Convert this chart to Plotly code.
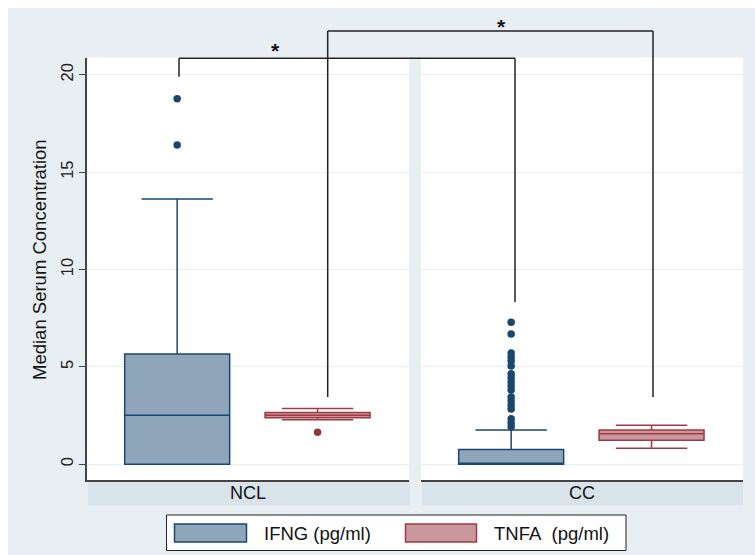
import plotly.graph_objects as go

# ---------------- data ----------------
groups = ["NCL", "CC"]
series = ["IFNG (pg/ml)", "TNFA  (pg/ml)"]

ifng_q1 = [0.0, 0.0]
ifng_median = [2.52, 0.0]
ifng_q3 = [5.66, 0.75]
ifng_lower = [0.0, 0.0]
ifng_upper = [13.62, 1.76]
ifng_outliers = [
    [18.77, 16.39],
    [7.29, 6.69, 5.71, 5.51, 5.30, 5.05, 4.64, 4.43, 4.22, 4.02, 3.81,
     3.45, 3.25, 3.04, 2.84, 2.33, 2.12, 1.92],
]

tnfa_q1 = [2.39, 1.23]
tnfa_median = [2.52, 1.57]
tnfa_q3 = [2.65, 1.76]
tnfa_lower = [2.29, 0.82]
tnfa_upper = [2.86, 2.00]
tnfa_outliers = [[1.64], []]

y_ticks = [0, 5, 10, 15, 20]

# ---------------- styling / layout constants ----------------
W, H = 755, 555
ML, MR, MT, MB = 87, 12, 58, 75
PW, PH = W - ML - MR, H - MT - MB

def px(x):
    return (x - ML) / PW

def py(y):
    return (H - MB - y) / PH

FONT = "Liberation Sans, Arial, sans-serif"
BG = "#e8eff2"
STRIP = "#d9e4ea"
GRID = "#e6eff1"
IFNG_LINE = "#1a476f"
IFNG_FILL = "#8fa5b9"
TNFA_LINE = "#9e3a44"
TNFA_FILL = "#c8989d"
AXIS = "#444444"

positions = [0.28, 0.716]
box_w = 0.326

domains = [[0, px(409)], [px(421), 1.0]]

fig = go.Figure()

for i, g in enumerate(groups):
    xa = "x" if i == 0 else "x2"
    ya = "y" if i == 0 else "y2"
    fig.add_trace(go.Box(
        x=[positions[0]], q1=[ifng_q1[i]], median=[ifng_median[i]], q3=[ifng_q3[i]],
        lowerfence=[ifng_lower[i]], upperfence=[ifng_upper[i]],
        width=box_w, whiskerwidth=0.68, boxpoints=False,
        fillcolor=IFNG_FILL, line=dict(color=IFNG_LINE, width=1.5),
        name=series[0], showlegend=False, xaxis=xa, yaxis=ya, hoverinfo="skip"))
    fig.add_trace(go.Box(
        x=[positions[1]], q1=[tnfa_q1[i]], median=[tnfa_median[i]], q3=[tnfa_q3[i]],
        lowerfence=[tnfa_lower[i]], upperfence=[tnfa_upper[i]],
        width=box_w, whiskerwidth=0.68, boxpoints=False,
        fillcolor=TNFA_FILL, line=dict(color=TNFA_LINE, width=1.5),
        name=series[1], showlegend=False, xaxis=xa, yaxis=ya, hoverinfo="skip"))
    if ifng_outliers[i]:
        fig.add_trace(go.Scatter(
            x=[positions[0]] * len(ifng_outliers[i]), y=ifng_outliers[i], mode="markers",
            marker=dict(color=IFNG_LINE, size=7.5), showlegend=False,
            xaxis=xa, yaxis=ya, hoverinfo="skip"))
    if tnfa_outliers[i]:
        fig.add_trace(go.Scatter(
            x=[positions[1]] * len(tnfa_outliers[i]), y=tnfa_outliers[i], mode="markers",
            marker=dict(color="#90353b", size=7.5), showlegend=False,
            xaxis=xa, yaxis=ya, hoverinfo="skip"))

shapes = []
# outer graph region background (white 8px edge at top/left)
shapes.append(dict(type="rect", xref="paper", yref="paper", layer="below",
                   x0=px(8), x1=px(W + 5), y0=py(H + 5), y1=py(8),
                   fillcolor=BG, line=dict(width=0)))
# white plot panels
for (x0, x1) in [(87, 409), (421, 743)]:
    shapes.append(dict(type="rect", xref="paper", yref="paper", layer="below",
                       x0=px(x0), x1=px(x1), y0=py(480), y1=py(57.5),
                       fillcolor="white", line=dict(width=0)))
# strips
for (x0, x1) in [(88, 410), (422, 743)]:
    shapes.append(dict(type="rect", xref="paper", yref="paper", layer="below",
                       x0=px(x0), x1=px(x1), y0=py(505), y1=py(480),
                       fillcolor=STRIP, line=dict(width=0)))

# significance brackets
def bracket(xl, xr, ytop, yl, yr):
    c = dict(color="#222222", width=1.5)
    return [
        dict(type="line", xref="paper", yref="paper", x0=px(xl), x1=px(xr),
             y0=py(ytop), y1=py(ytop), line=c),
        dict(type="line", xref="paper", yref="paper", x0=px(xl), x1=px(xl),
             y0=py(ytop), y1=py(yl), line=c),
        dict(type="line", xref="paper", yref="paper", x0=px(xr), x1=px(xr),
             y0=py(ytop), y1=py(yr), line=c),
    ]

shapes += bracket(179, 515, 58.3, 76.7, 302)
shapes += bracket(327.7, 653, 31, 397, 397)

# legend box
shapes.append(dict(type="rect", xref="paper", yref="paper",
                   x0=px(166.5), x1=px(626), y0=py(550.5), y1=py(515),
                   fillcolor="white", line=dict(color="#222222", width=1)))
shapes.append(dict(type="rect", xref="paper", yref="paper",
                   x0=px(174.5), x1=px(246.5), y0=py(542), y1=py(524),
                   fillcolor=IFNG_FILL, line=dict(color=IFNG_LINE, width=1.5)))
shapes.append(dict(type="rect", xref="paper", yref="paper",
                   x0=px(405.5), x1=px(476.5), y0=py(542), y1=py(524),
                   fillcolor=TNFA_FILL, line=dict(color=TNFA_LINE, width=1.5)))

annotations = []
# strip labels
for i, g in enumerate(groups):
    cx = (87 + 409) / 2 if i == 0 else (421 + 743) / 2
    annotations.append(dict(text=g, xref="paper", yref="paper", x=px(cx), y=py(492.5),
                            showarrow=False, xanchor="center", yanchor="middle",
                            font=dict(family=FONT, size=18, color="#111111")))
# legend labels
for label, lx in zip(series, [262, 492]):
    annotations.append(dict(text=label.replace("  ", "&nbsp; "), xref="paper", yref="paper",
                            x=px(lx), y=py(533), showarrow=False,
                            xanchor="left", yanchor="middle",
                            font=dict(family=FONT, size=18.5, color="#111111")))
# stars
for sx, sy in [(275.5, 50), (501.7, 27)]:
    annotations.append(dict(text="<b>*</b>", xref="paper", yref="paper", x=px(sx), y=py(sy),
                            showarrow=False, xanchor="center", yanchor="middle",
                            font=dict(family=FONT, size=21, color="#111111")))
# y-axis title
annotations.append(dict(text="Median Serum Concentration", xref="paper", yref="paper",
                        x=px(39), y=py(260), textangle=-90, showarrow=False,
                        xanchor="center", yanchor="middle",
                        font=dict(family=FONT, size=18.5, color="#111111")))

yrange = [-0.81, 20.86]
common_x = dict(range=[0, 1], showticklabels=False, ticks="", showgrid=False,
                zeroline=False, showline=True, linecolor=AXIS, linewidth=1.5)

fig.update_layout(
    width=W, height=H,
    margin=dict(l=ML, r=MR, t=MT, b=MB),
    paper_bgcolor="white", plot_bgcolor="rgba(0,0,0,0)",
    showlegend=False,
    xaxis=dict(domain=domains[0], **common_x),
    xaxis2=dict(domain=domains[1], **common_x),
    yaxis=dict(range=yrange, tickvals=y_ticks, ticktext=[str(v) for v in y_ticks],
               tickangle=-90, ticks="outside", ticklen=6, tickwidth=1.2, tickcolor=AXIS,
               tickfont=dict(family=FONT, size=16.5, color="#222222"),
               showline=True, linecolor=AXIS, linewidth=1.5,
               showgrid=True, gridcolor=GRID, gridwidth=1, zeroline=False),
    yaxis2=dict(range=yrange, anchor="x2", matches="y", tickvals=y_ticks,
                showticklabels=False, ticks="", showline=False,
                showgrid=True, gridcolor=GRID, gridwidth=1, zeroline=False),
    shapes=shapes,
    annotations=annotations,
)

fig.write_html("out.html")
